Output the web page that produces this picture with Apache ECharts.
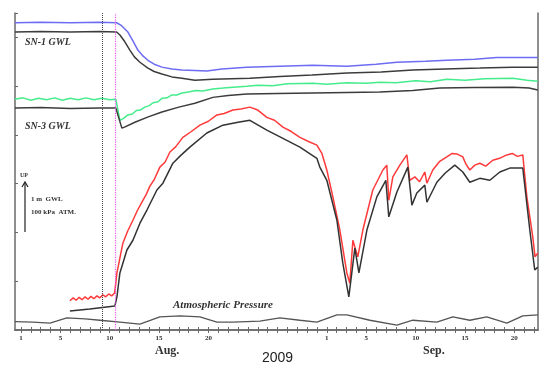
<!DOCTYPE html>
<html>
<head>
<meta charset="utf-8">
<script src="https://cdn.jsdelivr.net/npm/echarts@6/dist/echarts.min.js"></script>
<style>
  html, body { margin: 0; padding: 0; background: #fff; }
  #chart { width: 540px; height: 365px; }
</style>
</head>
<body>
<div id="chart"></div>
<script>
// x = day number counted from Aug 1 (Sep 1 = 32), y = relative level
const tickDays = [];
for (let d = 1; d <= 53; d++) tickDays.push(d);
const labelDays = [1, 5, 10, 15, 20, 32, 36, 41, 46, 51];
const markDays = [9.21, 10.6];

const sn1Blue = [
  [0.4, 6.30], [3, 6.31], [6, 6.30], [9, 6.31], [10.7, 6.30], [11.2, 6.24], [11.84, 6.11],
  [12.35, 5.93], [12.85, 5.74], [13.36, 5.62], [13.87, 5.53], [14.5, 5.45], [15.29, 5.39],
  [16.3, 5.35], [17.31, 5.33], [18.63, 5.32], [19.84, 5.31], [21.36, 5.35], [23.9, 5.39],
  [27.24, 5.41], [30.58, 5.43], [34.03, 5.41], [37, 5.45], [39.1, 5.49], [42, 5.51],
  [44.16, 5.53], [47, 5.55], [49.23, 5.59], [53.38, 5.59]
];
const sn1Black = [
  [0.4, 6.11], [3, 6.12], [6, 6.11], [9, 6.12], [10.7, 6.11], [11.03, 6.05], [11.5, 5.92],
  [12.04, 5.74], [12.5, 5.60], [13.06, 5.49], [13.87, 5.37], [14.5, 5.30], [15.29, 5.25],
  [16.3, 5.19], [17.31, 5.16], [18.63, 5.12], [20.45, 5.14], [24.2, 5.16], [27.24, 5.20],
  [30.5, 5.23], [34.03, 5.27], [37.5, 5.29], [40.72, 5.33], [44, 5.35], [47.5, 5.37],
  [50.85, 5.39], [53.38, 5.39]
];
const sn3Green = [
  [0.4, 4.73], [1.2, 4.76], [2.0, 4.71], [2.8, 4.75], [3.6, 4.72], [4.4, 4.76], [5.2, 4.71],
  [6.0, 4.75], [6.8, 4.72], [7.6, 4.76], [8.4, 4.72], [9.2, 4.75], [10.0, 4.72], [10.62, 4.73],
  [11.03, 4.30], [11.4, 4.34], [11.84, 4.41], [12.3, 4.43], [12.7, 4.50], [13.1, 4.51],
  [13.56, 4.57], [14.0, 4.60], [14.4, 4.66], [14.9, 4.68], [15.29, 4.75], [15.8, 4.76],
  [16.3, 4.82], [16.8, 4.82], [17.31, 4.86], [18.0, 4.88], [18.7, 4.91], [19.4, 4.90],
  [20.45, 4.94], [21.5, 4.96], [22.5, 4.98], [23.9, 5.00], [25, 5.02], [26.5, 5.01],
  [28, 5.05], [30.58, 5.06], [32, 5.04], [34, 5.07], [36, 5.06], [37.37, 5.08], [39, 5.07],
  [41, 5.11], [42.5, 5.09], [44.16, 5.14], [46, 5.12], [48, 5.15], [50.85, 5.16],
  [52.3, 5.12], [53.38, 5.10]
];
const sn3Black = [
  [0.4, 4.55], [3, 4.56], [6, 4.54], [9, 4.55], [10.62, 4.55], [11.23, 4.14], [11.5, 4.16],
  [12.55, 4.26], [13.9, 4.37], [15.29, 4.47], [17, 4.57], [18.63, 4.65], [20.45, 4.77],
  [22, 4.81], [23.9, 4.84], [27, 4.85], [30.58, 4.86], [34, 4.87], [37.37, 4.88], [40.7, 4.91],
  [43.45, 4.96], [47, 4.97], [50.85, 4.98], [52.5, 4.96], [53.38, 4.92]
];
const wellRed = [
  [5.96, 0.60], [6.3, 0.66], [6.6, 0.61], [6.9, 0.67], [7.2, 0.62], [7.5, 0.68], [7.8, 0.63],
  [8.1, 0.69], [8.4, 0.64], [8.7, 0.70], [9.0, 0.66], [9.3, 0.72], [9.6, 0.68], [9.9, 0.74],
  [10.2, 0.70], [10.5, 0.76], [10.67, 0.78], [10.73, 1.17], [11.33, 1.78], [11.8, 2.02],
  [12.35, 2.25], [12.8, 2.45], [13.36, 2.66], [13.7, 2.78], [14.07, 2.95], [14.5, 3.08],
  [15.08, 3.34], [15.6, 3.44], [16.1, 3.65], [16.7, 3.76], [17.41, 3.95], [18.2, 4.06],
  [19.14, 4.20], [20.0, 4.28], [20.86, 4.41], [21.6, 4.44], [22.48, 4.51], [23.3, 4.53],
  [24.2, 4.57], [25.0, 4.51], [25.92, 4.36], [26.7, 4.30], [27.55, 4.16], [28.4, 4.07],
  [29.27, 3.95], [30.2, 3.86], [30.99, 3.79], [31.5, 3.62], [32.0, 3.28], [32.61, 2.73],
  [33.32, 2.05], [34.03, 1.17], [34.33, 0.96], [34.64, 1.84], [35.14, 1.50], [35.65, 2.05],
  [36.66, 2.87], [37.68, 3.28], [38.08, 3.38], [38.28, 2.66], [38.69, 3.14], [39.4, 3.38],
  [40.11, 3.59], [40.41, 3.07], [40.92, 3.14], [41.4, 3.04], [41.93, 3.24], [42.14, 3.01],
  [42.74, 3.28], [43.4, 3.45], [44.16, 3.55], [44.7, 3.62], [45.17, 3.61], [45.78, 3.55],
  [46.1, 3.40], [46.49, 3.28], [47.0, 3.38], [47.5, 3.42], [48.1, 3.36], [48.82, 3.48],
  [49.5, 3.52], [50.24, 3.59], [50.8, 3.62], [51.3, 3.56], [51.86, 3.59], [52.27, 2.73],
  [52.87, 1.91], [53.1, 1.50], [53.38, 1.58]
];
const wellBlack = [
  [5.96, 0.39], [7.99, 0.43], [10.52, 0.49], [10.67, 0.51], [10.73, 0.68], [11.03, 1.17],
  [11.74, 1.64], [12.35, 1.84], [13.06, 2.19], [13.77, 2.46], [14.78, 2.87], [15.39, 3.01],
  [16.4, 3.42], [17.2, 3.58], [18.12, 3.75], [19.84, 4.04], [21.47, 4.20], [23.0, 4.26],
  [24.2, 4.30], [25.92, 4.10], [27.55, 3.93], [29.27, 3.75], [30.99, 3.52], [31.29, 3.34],
  [32.0, 3.07], [33.02, 2.25], [33.62, 1.37], [34.23, 0.68], [34.84, 1.68], [35.25, 1.17],
  [36.06, 2.05], [37.07, 2.73], [37.98, 3.07], [38.28, 2.32], [39.1, 2.83], [40.21, 3.34],
  [40.62, 2.56], [41.12, 2.81], [41.93, 2.97], [42.14, 2.62], [43.15, 3.03], [44.0, 3.22],
  [44.97, 3.38], [45.78, 3.24], [46.49, 3.03], [47.5, 3.11], [48.52, 3.07], [49.53, 3.24],
  [50.54, 3.32], [51.86, 3.32], [52.57, 2.05], [53.07, 1.23], [53.38, 1.29]
];
const atmPressure = [
  [0.39, 0.17], [2.22, 0.16], [3.94, 0.14], [5.66, 0.25], [7.5, 0.23], [9.0, 0.20],
  [11.03, 0.16], [13.06, 0.12], [15.08, 0.27], [17.11, 0.29], [19.14, 0.27], [20.86, 0.16],
  [22.48, 0.16], [25.21, 0.18], [27.24, 0.25], [29.27, 0.20], [30.99, 0.16], [33.02, 0.31],
  [34.03, 0.31], [36.36, 0.20], [39.1, 0.10], [40.72, 0.20], [43.15, 0.16], [44.77, 0.27],
  [46.49, 0.20], [48.21, 0.27], [50.24, 0.14], [51.86, 0.29], [53.38, 0.31]
];

const serif = '"Liberation Serif", "DejaVu Serif", serif';
const frame = '#6a6a6a';

function lineSeries(data, color, width) {
  return {
    type: 'line',
    data: data,
    showSymbol: false,
    silent: true,
    lineStyle: { color: color, width: width || 1.5 }
  };
}

let myChart = echarts.init(document.getElementById('chart'));

let series = [
  lineSeries(sn1Blue, '#6d6cf2'),
  lineSeries(sn1Black, '#3c3c3c'),
  lineSeries(sn3Green, '#45ec8c'),
  lineSeries(sn3Black, '#3c3c3c'),
  lineSeries(wellRed, '#ff3a3a'),
  lineSeries(wellBlack, '#333333'),
  lineSeries(atmPressure, '#555555', 1.3)
];
// the two dotted event markers
series[6].markLine = {
  symbol: 'none',
  silent: true,
  label: { show: false },
  data: [
    { xAxis: markDays[0], lineStyle: { color: '#444', type: 'dotted', width: 1 } },
    { xAxis: markDays[1], lineStyle: { color: '#ee55ee', type: 'dotted', width: 1.2 } }
  ]
};

let option = {
  animation: false,
  backgroundColor: '#fff',
  grid: { left: 15, top: 13, right: 2, bottom: 35 },
  xAxis: [
    {
      type: 'value',
      min: 0.4,
      max: 53.4,
      axisLine: { lineStyle: { color: frame, width: 1.5 } },
      axisTick: { inside: true, length: 3, customValues: tickDays, lineStyle: { color: frame } },
      axisLabel: {
        customValues: labelDays,
        formatter: function (v) { return v > 31 ? String(v - 31) : String(v); },
        fontSize: 7,
        fontWeight: 'bold',
        fontFamily: serif,
        color: '#333',
        margin: 5
      },
      splitLine: { show: false }
    },
    {
      type: 'value',
      position: 'top',
      min: 0.4,
      max: 53.4,
      axisLine: { lineStyle: { color: frame, width: 1.5 } },
      axisTick: { inside: true, length: 3, customValues: tickDays, lineStyle: { color: frame } },
      axisLabel: { show: false },
      splitLine: { show: false }
    }
  ],
  yAxis: [
    {
      type: 'value',
      min: 0,
      max: 6.5,
      interval: 1,
      axisLine: { show: true, lineStyle: { color: frame, width: 1.5 } },
      axisTick: { show: true, inside: true, length: 3, lineStyle: { color: frame } },
      axisLabel: { show: false },
      splitLine: { show: false }
    },
    {
      type: 'value',
      position: 'right',
      min: 0,
      max: 6.5,
      axisLine: { show: true, lineStyle: { color: frame, width: 1.5 } },
      axisTick: { show: false },
      axisLabel: { show: false },
      splitLine: { show: false }
    }
  ],
  graphic: [
    { type: 'text', left: 25, top: 37, style: { text: 'SN-1 GWL', font: 'italic bold 10px ' + serif, fill: '#333' } },
    { type: 'text', left: 25, top: 121, style: { text: 'SN-3 GWL', font: 'italic bold 10px ' + serif, fill: '#333' } },
    { type: 'text', left: 20, top: 172, style: { text: 'UP', font: 'bold 6px ' + serif, fill: '#333' } },
    { type: 'line', shape: { x1: 25, y1: 183, x2: 25, y2: 232 }, style: { stroke: '#222', lineWidth: 1.2 } },
    { type: 'polyline', shape: { points: [[22, 187], [25, 182], [28, 187]] }, style: { stroke: '#222', lineWidth: 1.2, fill: null } },
    { type: 'text', left: 31, top: 196, style: { text: '1 m  GWL', font: 'bold 7px ' + serif, fill: '#333' } },
    { type: 'text', left: 31, top: 209, style: { text: '100 kPa  ATM.', font: 'bold 7px ' + serif, fill: '#333' } },
    { type: 'text', left: 173, top: 300, style: { text: 'Atmospheric Pressure', font: 'italic bold 11px ' + serif, fill: '#333' } },
    { type: 'text', left: 155, top: 345, style: { text: 'Aug.', font: 'bold 12px ' + serif, fill: '#333' } },
    { type: 'text', left: 423, top: 345, style: { text: 'Sep.', font: 'bold 12px ' + serif, fill: '#333' } },
    { type: 'text', left: 262, top: 351, style: { text: '2009', font: '14px "Liberation Sans", Arial, sans-serif', fill: '#222' } }
  ],
  series: series
};

myChart.setOption(option);
</script>
</body>
</html>
